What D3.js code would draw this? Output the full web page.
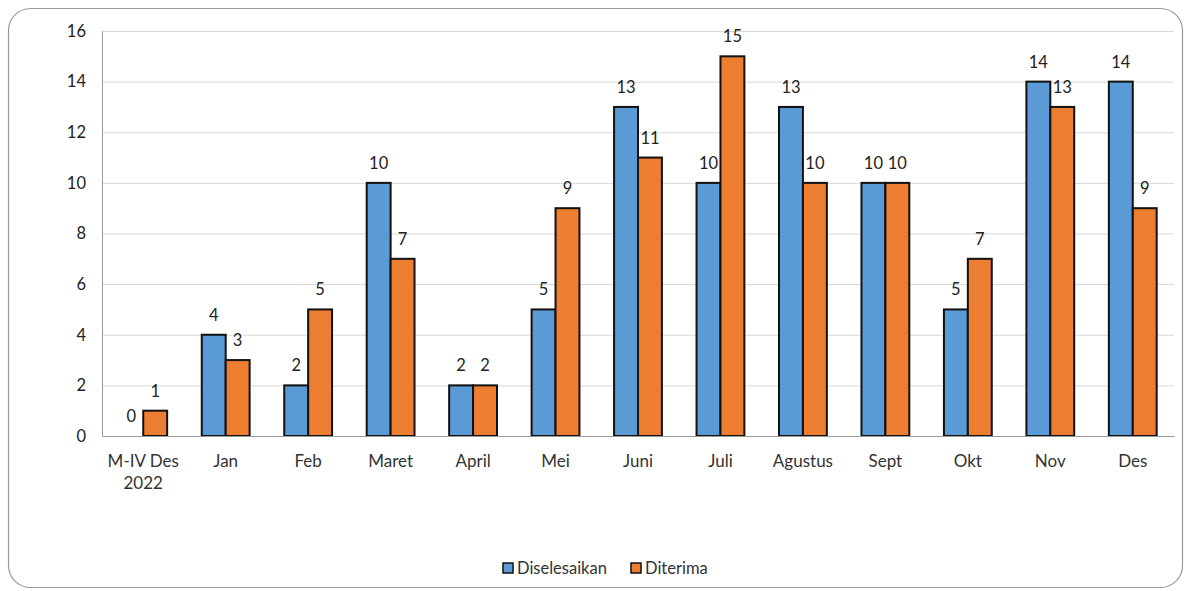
<!DOCTYPE html>
<html>
<head>
<meta charset="utf-8">
<script src="https://cdnjs.cloudflare.com/ajax/libs/d3/7.8.5/d3.min.js"></script>
<style>
  body { margin: 0; background: #fff; }
  text { font-family: Lato, "Open Sans", sans-serif; }
</style>
</head>
<body>
<div id="chart"></div>
<script>
// data
const categories = ["M-IV Des 2022", "Jan", "Feb", "Maret", "April", "Mei", "Juni", "Juli", "Agustus", "Sept", "Okt", "Nov", "Des"];
const diselesaikan = [0, 4, 2, 10, 2, 5, 13, 10, 13, 10, 5, 14, 14];
const diterima = [1, 3, 5, 7, 2, 9, 11, 15, 10, 10, 7, 13, 9];
const seriesNames = ["Diselesaikan", "Diterima"];
const colors = ["#5b9bd5", "#ed7d31"];
const yTicks = [0, 2, 4, 6, 8, 10, 12, 14, 16];

const W = 1189, H = 591;
const margin = {top: 31, right: 15, bottom: 155, left: 102};
const width = W - margin.left - margin.right,
    height = H - margin.top - margin.bottom;

const svg = d3.select("#chart").append("svg")
    .attr("width", W)
    .attr("height", H);

// cadre arrondi
svg.append("rect")
    .attr("x", 8.5).attr("y", 8.5)
    .attr("width", W - 15).attr("height", H - 12)
    .attr("rx", 22).attr("ry", 22)
    .attr("fill", "#fff")
    .attr("stroke", "#9a9a9a")
    .attr("stroke-width", 1.2);

const g = svg.append("g")
    .attr("transform", "translate(" + margin.left + "," + margin.top + ")");

const x = d3.scaleBand()
    .domain(categories)
    .range([0, width])
    .paddingInner(0.42)
    .paddingOuter(0.21);

const x1 = d3.scaleBand()
    .domain([0, 1])
    .range([0, x.bandwidth()]);

const y = d3.scaleLinear()
    .domain([0, 16])
    .range([height, 0]);

// grille
g.selectAll(".grid")
    .data(yTicks.slice(1))
    .enter().append("line")
    .attr("x1", 0).attr("x2", width)
    .attr("y1", d => y(d) + 0.5).attr("y2", d => y(d) + 0.5)
    .attr("stroke", "#d9d9d9");

// axe Y
const yAxis = g.append("g")
    .call(d3.axisLeft(y).tickValues(yTicks).tickSize(0).tickPadding(16));
yAxis.select(".domain").attr("stroke", "#9a9a9a");
yAxis.selectAll("text")
    .attr("font-size", 16.5)
    .attr("fill", "#222");

// barres
const rows = categories.map((c, i) => ({cat: c, vals: [diselesaikan[i], diterima[i]]}));

const grp = g.selectAll(".grp")
    .data(rows)
    .enter().append("g")
    .attr("transform", d => "translate(" + x(d.cat) + ",0)");

grp.selectAll("rect")
    .data(d => d.vals.map((v, k) => ({v, k})))
    .enter().append("rect")
    .filter(d => d.v > 0)
    .attr("x", d => x1(d.k))
    .attr("y", d => y(d.v))
    .attr("width", x1.bandwidth())
    .attr("height", d => height - y(d.v))
    .attr("fill", d => colors[d.k])
    .attr("stroke", "#111")
    .attr("stroke-width", 2);

grp.selectAll(".lbl")
    .data(d => d.vals.map((v, k) => ({v, k})))
    .enter().append("text")
    .attr("x", d => x1(d.k) + x1.bandwidth() / 2)
    .attr("y", d => y(d.v) - 14)
    .attr("text-anchor", "middle")
    .attr("font-size", 16.5)
    .attr("fill", "#222")
    .text(d => d.v);

// axe X
const xAxis = g.append("g")
    .attr("transform", "translate(0," + height + ")")
    .call(d3.axisBottom(x).tickSize(0).tickPadding(0));
xAxis.select(".domain").attr("stroke", "#9a9a9a");
xAxis.selectAll("text").remove();
xAxis.selectAll(".tick").each(function(d) {
    const words = d === "M-IV Des 2022" ? ["M-IV Des", "2022"] : [d];
    const t = d3.select(this).append("text")
        .attr("text-anchor", "middle")
        .attr("font-size", 17)
        .attr("fill", "#333");
    words.forEach((w, i) => {
        t.append("tspan").attr("x", 0).attr("y", 31 + i * 22).text(w);
    });
});

// légende
const legend = svg.append("g").attr("transform", "translate(503,563)");
const lx = [0, 128];
seriesNames.forEach((n, i) => {
    legend.append("rect")
        .attr("x", lx[i]).attr("y", 0)
        .attr("width", 10).attr("height", 10)
        .attr("fill", colors[i])
        .attr("stroke", "#111")
        .attr("stroke-width", 1.5);
    legend.append("text")
        .attr("x", lx[i] + 14).attr("y", 11)
        .attr("font-size", 16.5)
        .attr("fill", "#333")
        .text(n);
});
</script>
</body>
</html>
